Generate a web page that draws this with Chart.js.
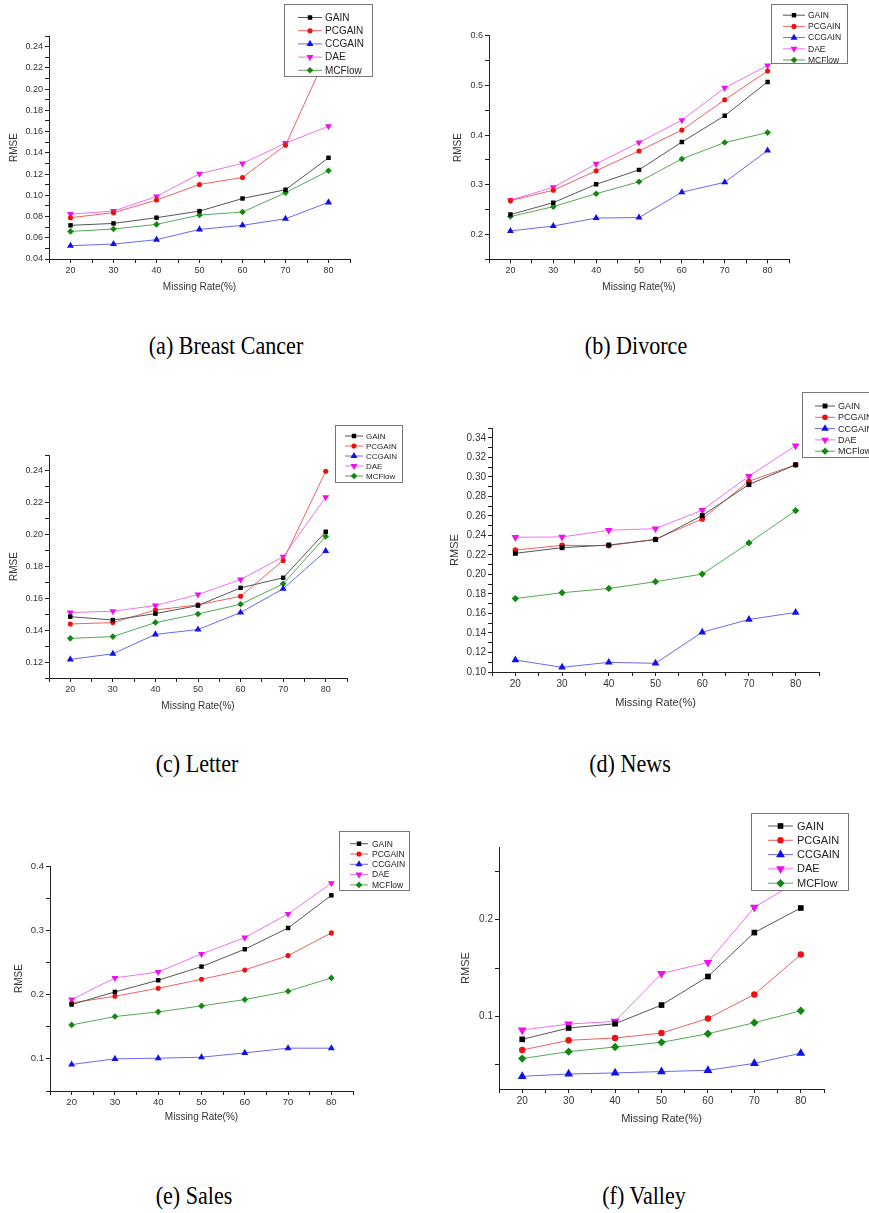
<!DOCTYPE html>
<html>
<head>
<meta charset="utf-8">
<script src="https://cdn.jsdelivr.net/npm/chart.js@4.4.1/dist/chart.umd.min.js"></script>
<style>
  body { margin: 0; background: #fff; width: 869px; height: 1213px; position: relative; overflow: hidden; }
  canvas { position: absolute; }
  .cap { position: absolute; font-family: "Liberation Serif", "Times New Roman", serif; font-size: 23px; color: #000; transform: translate(-50%, -50%) scale(0.96, 1.05); white-space: nowrap; }
</style>
</head>
<body>
<div class="cap" style="left:226px;top:347px">(a) Breast Cancer</div>
<div class="cap" style="left:636px;top:347px">(b) Divorce</div>
<div class="cap" style="left:197px;top:765px">(c) Letter</div>
<div class="cap" style="left:630px;top:765px">(d) News</div>
<div class="cap" style="left:194px;top:1197px">(e) Sales</div>
<div class="cap" style="left:644px;top:1197px">(f) Valley</div>

<script>
const missingRate = [20, 30, 40, 50, 60, 70, 80];
const methods = ['GAIN', 'PCGAIN', 'CCGAIN', 'DAE', 'MCFlow'];

// (a) Breast Cancer
const breastGAIN   = [0.0717, 0.0735, 0.0789, 0.0851, 0.0970, 0.1052, 0.1353];
const breastPCGAIN = [0.0789, 0.0836, 0.0955, 0.1102, 0.1168, 0.1472, 0.2360];
const breastCCGAIN = [0.0525, 0.0541, 0.0582, 0.0679, 0.0717, 0.0779, 0.0933];
const breastDAE    = [0.0823, 0.0851, 0.0989, 0.1203, 0.1300, 0.1491, 0.1650];
const breastMCFlow = [0.0660, 0.0682, 0.0726, 0.0814, 0.0842, 0.1024, 0.1231];

// (b) Divorce
const divorceGAIN   = [0.240, 0.264, 0.301, 0.330, 0.386, 0.439, 0.507];
const divorcePCGAIN = [0.268, 0.289, 0.328, 0.368, 0.410, 0.471, 0.529];
const divorceCCGAIN = [0.207, 0.217, 0.233, 0.234, 0.285, 0.305, 0.369];
const divorceDAE    = [0.269, 0.295, 0.342, 0.385, 0.430, 0.495, 0.540];
const divorceMCFlow = [0.236, 0.256, 0.282, 0.306, 0.352, 0.385, 0.405];

// (c) Letter
const letterGAIN   = [0.1485, 0.1464, 0.1504, 0.1555, 0.1666, 0.1729, 0.2018];
const letterPCGAIN = [0.1439, 0.1448, 0.1527, 0.1559, 0.1613, 0.1838, 0.2398];
const letterCCGAIN = [0.1217, 0.1252, 0.1374, 0.1404, 0.1511, 0.1660, 0.1897];
const letterDAE    = [0.1511, 0.1519, 0.1555, 0.1624, 0.1718, 0.1861, 0.2235];
const letterMCFlow = [0.1349, 0.1360, 0.1448, 0.1502, 0.1563, 0.1691, 0.1989];

// (d) News
const newsGAIN   = [0.2216, 0.2274, 0.2301, 0.2356, 0.2603, 0.2921, 0.3123];
const newsPCGAIN = [0.2250, 0.2298, 0.2295, 0.2360, 0.2568, 0.2955, 0.3123];
const newsCCGAIN = [0.1123, 0.1048, 0.1099, 0.1089, 0.1408, 0.1538, 0.1610];
const newsDAE    = [0.2380, 0.2384, 0.2452, 0.2469, 0.2658, 0.3007, 0.3318];
const newsMCFlow = [0.1753, 0.1812, 0.1856, 0.1925, 0.2003, 0.2322, 0.2654];

// (e) Sales
const salesGAIN   = [0.1845, 0.2041, 0.2223, 0.2435, 0.2705, 0.3036, 0.3544];
const salesPCGAIN = [0.1870, 0.1974, 0.2098, 0.2238, 0.2383, 0.2606, 0.2959];
const salesCCGAIN = [0.0912, 0.1000, 0.1010, 0.1026, 0.1093, 0.1166, 0.1166];
const salesDAE    = [0.1922, 0.2259, 0.2352, 0.2632, 0.2886, 0.3254, 0.3731];
const salesMCFlow = [0.1528, 0.1658, 0.1731, 0.1824, 0.1922, 0.2052, 0.2259];

// (f) Valley
const valleyGAIN   = [0.0763, 0.0880, 0.0924, 0.1117, 0.1412, 0.1866, 0.2120];
const valleyPCGAIN = [0.0653, 0.0753, 0.0777, 0.0828, 0.0979, 0.1227, 0.1639];
const valleyCCGAIN = [0.0381, 0.0405, 0.0416, 0.0430, 0.0443, 0.0515, 0.0619];
const valleyDAE    = [0.0859, 0.0921, 0.0948, 0.1443, 0.1557, 0.2127, 0.2415];
const valleyMCFlow = [0.0564, 0.0636, 0.0684, 0.0732, 0.0821, 0.0935, 0.1058];

// marker / line styles per method (k scales the marker radius)
const styles = [
  { point: 'rect',     rot: 0,   k: 1.05, marker: '#000000', line: '#555555' },
  { point: 'circle',   rot: 0,   k: 0.85, marker: '#ee1111', line: '#f06060' },
  { point: 'triangle', rot: 0,   k: 1.35, marker: '#1111ee', line: '#6a6af0' },
  { point: 'triangle', rot: 180, k: 1.35, marker: '#ee11ee', line: '#f070f0' },
  { point: 'rectRot',  rot: 0,   k: 1.1,  marker: '#118811', line: '#55aa55' }
];

// page layout of the six panels
const panels = [
  { series: [breastGAIN, breastPCGAIN, breastCCGAIN, breastDAE, breastMCFlow],
    yMin: 0.04, yMax: 0.25, yStep: 0.01, yLabelStep: 0.02, yDec: 2,
    l: 49, r: 350, t: 36, b: 259, yTitleX: 14, xTitleY: 287, tickSize: 9, titleSize: 10, radius: 3,
    legend: { x: 284, y: 4, w: 88, h: 72, rowY: 17.5, rowGap: 13.2, x0: 298, x1: 322, tx: 325, size: 10 } },
  { series: [divorceGAIN, divorcePCGAIN, divorceCCGAIN, divorceDAE, divorceMCFlow],
    yMin: 0.15, yMax: 0.6, yStep: 0.05, yLabelStep: 0.1, yDec: 1,
    l: 489, r: 789, t: 35.7, b: 259.3, yTitleX: 458, xTitleY: 287, tickSize: 9, titleSize: 10, radius: 3,
    legend: { x: 771, y: 4, w: 76, h: 59, rowY: 15.2, rowGap: 11.2, x0: 783, x1: 805, tx: 808, size: 8.5 } },
  { series: [letterGAIN, letterPCGAIN, letterCCGAIN, letterDAE, letterMCFlow],
    yMin: 0.11, yMax: 0.25, yStep: 0.01, yLabelStep: 0.02, yDec: 2,
    l: 49, r: 347, t: 455, b: 678, yTitleX: 14, xTitleY: 705.5, tickSize: 9, titleSize: 10, radius: 3,
    legend: { x: 335, y: 425, w: 67, h: 57, rowY: 436, rowGap: 10, x0: 345, x1: 363, tx: 366, size: 8 } },
  { series: [newsGAIN, newsPCGAIN, newsCCGAIN, newsDAE, newsMCFlow],
    yMin: 0.10, yMax: 0.35, yStep: 0.01, yLabelStep: 0.02, yDec: 2,
    l: 492, r: 819, t: 428, b: 672, yTitleX: 455, xTitleY: 703, tickSize: 10, titleSize: 11, radius: 3.3,
    legend: { x: 802, y: 392, w: 80, h: 65, rowY: 406, rowGap: 11.3, x0: 815, x1: 835, tx: 838, size: 9 } },
  { series: [salesGAIN, salesPCGAIN, salesCCGAIN, salesDAE, salesMCFlow],
    yMin: 0.05, yMax: 0.4, yStep: 0.05, yLabelStep: 0.1, yDec: 1,
    l: 50, r: 353, t: 866, b: 1091, yTitleX: 19, xTitleY: 1117, tickSize: 9.5, titleSize: 10, radius: 3,
    legend: { x: 339, y: 831, w: 70, h: 59, rowY: 843.7, rowGap: 10.3, x0: 350, x1: 368, tx: 372, size: 8.5 } },
  { series: [valleyGAIN, valleyPCGAIN, valleyCCGAIN, valleyDAE, valleyMCFlow],
    yMin: 0.025, yMax: 0.275, yStep: 0.05, yLabelStep: 0.1, yDec: 1,
    l: 499, r: 824, t: 847, b: 1089, yTitleX: 466, xTitleY: 1119, tickSize: 10, titleSize: 11, radius: 3.8,
    legend: { x: 751, y: 813, w: 97, h: 77, rowY: 826, rowGap: 14.3, x0: 768, x1: 793, tx: 797, size: 11 } }
];

Chart.defaults.font.family = '"Liberation Sans", Arial, sans-serif';
Chart.defaults.color = '#333';

function drawMarker(ctx, st, x, y, r) {
  ctx.fillStyle = st.marker;
  ctx.beginPath();
  if (st.point === 'rect') {
    const s = r * Math.SQRT1_2;
    ctx.rect(x - s, y - s, 2 * s, 2 * s);
  } else if (st.point === 'circle') {
    ctx.arc(x, y, r, 0, Math.PI * 2);
  } else if (st.point === 'rectRot') {
    ctx.moveTo(x, y - r); ctx.lineTo(x + r, y); ctx.lineTo(x, y + r); ctx.lineTo(x - r, y);
  } else {
    let rad = st.rot * Math.PI / 180;
    ctx.moveTo(x + Math.sin(rad) * r, y - Math.cos(rad) * r);
    rad += Math.PI * 2 / 3;
    ctx.lineTo(x + Math.sin(rad) * r, y - Math.cos(rad) * r);
    rad += Math.PI * 2 / 3;
    ctx.lineTo(x + Math.sin(rad) * r, y - Math.cos(rad) * r);
  }
  ctx.closePath();
  ctx.fill();
}

// legend box drawn on top of the plot, like the original Origin figures
const overlayLegend = {
  id: 'overlayLegend',
  afterDraw(chart, args, lg) {
    const ctx = chart.ctx;
    ctx.save();
    ctx.fillStyle = '#fff';
    ctx.fillRect(lg.x, lg.y, lg.w, lg.h);
    ctx.strokeStyle = '#777';
    ctx.lineWidth = 1;
    ctx.strokeRect(Math.round(lg.x) + 0.5, Math.round(lg.y) + 0.5, lg.w, lg.h);
    methods.forEach((name, i) => {
      const st = styles[i];
      const y = lg.rowY + i * lg.rowGap;
      ctx.strokeStyle = st.line;
      ctx.beginPath();
      ctx.moveTo(lg.x0, y);
      ctx.lineTo(lg.x1, y);
      ctx.stroke();
      drawMarker(ctx, st, (lg.x0 + lg.x1) / 2, y, lg.r * st.k);
      ctx.fillStyle = '#222';
      ctx.font = lg.size + 'px "Liberation Sans", Arial, sans-serif';
      ctx.textBaseline = 'middle';
      ctx.fillText(name, lg.tx, y + 0.5);
    });
    ctx.restore();
  }
};

panels.forEach(p => {
  const titleLh = p.titleSize * 1.2;
  const cx = Math.round(p.yTitleX - titleLh / 2);
  const cy = Math.max(0, Math.floor(Math.min(p.t, p.legend.y) - 3));
  const right = Math.min(869, Math.ceil(Math.max(p.r, p.legend.x + p.legend.w) + 4));
  const bottom = Math.round(p.xTitleY + titleLh / 2);
  const cw = right - cx;
  const ch = bottom - cy;

  const canvas = document.createElement('canvas');
  canvas.width = cw;
  canvas.height = ch;
  canvas.style.left = cx + 'px';
  canvas.style.top = cy + 'px';
  canvas.style.width = cw + 'px';
  canvas.style.height = ch + 'px';
  document.body.appendChild(canvas);

  const lg = p.legend;
  const legendOpts = {
    x: lg.x - cx, y: lg.y - cy, w: lg.w, h: lg.h,
    rowY: lg.rowY - cy, rowGap: lg.rowGap,
    x0: lg.x0 - cx, x1: lg.x1 - cx, tx: lg.tx - cx,
    size: lg.size, r: p.radius
  };

  const datasets = methods.map((name, i) => ({
    label: name,
    data: missingRate.map((x, j) => ({ x: x, y: p.series[i][j] })),
    borderColor: styles[i].line,
    backgroundColor: styles[i].marker,
    borderWidth: 1,
    pointStyle: styles[i].point,
    pointRotation: styles[i].rot,
    pointRadius: p.radius * styles[i].k,
    pointBorderWidth: 0,
    pointBackgroundColor: styles[i].marker,
    tension: 0,
    fill: false
  }));

  new Chart(canvas.getContext('2d'), {
    type: 'line',
    data: { datasets: datasets },
    plugins: [overlayLegend],
    options: {
      responsive: false,
      animation: false,
      layout: { padding: { top: p.t - cy, right: right - p.r, left: 0, bottom: 0 } },
      plugins: {
        legend: { display: false },
        tooltip: { enabled: false },
        overlayLegend: legendOpts
      },
      scales: {
        x: {
          type: 'linear',
          min: 15,
          max: 85,
          afterFit(s) { s.height = bottom - p.b; },
          border: { color: '#222', width: 1 },
          grid: { drawOnChartArea: false, tickLength: 4, color: '#222' },
          ticks: {
            stepSize: 5,
            autoSkip: false,
            maxRotation: 0,
            padding: 2,
            color: '#333',
            font: { size: p.tickSize },
            callback: v => missingRate.includes(v) ? String(v) : ''
          },
          title: { display: true, text: 'Missing Rate(%)', padding: 0, color: '#333', font: { size: p.titleSize } }
        },
        y: {
          min: p.yMin,
          max: p.yMax,
          afterFit(s) { s.width = p.l - cx; },
          afterBuildTicks(s) {
            const out = [];
            for (let k = Math.ceil(p.yMin / p.yStep - 1e-6); k * p.yStep <= p.yMax + 1e-9; k++) {
              out.push({ value: +(k * p.yStep).toFixed(4) });
            }
            s.ticks = out;
          },
          border: { color: '#222', width: 1 },
          grid: { drawOnChartArea: false, tickLength: 4, color: '#222' },
          ticks: {
            autoSkip: false,
            padding: 2,
            color: '#333',
            font: { size: p.tickSize },
            callback: v => {
              const k = Math.round(v / p.yLabelStep);
              return Math.abs(v - k * p.yLabelStep) < 1e-6 ? v.toFixed(p.yDec) : '';
            }
          },
          title: { display: true, text: 'RMSE', padding: 0, color: '#333', font: { size: p.titleSize } }
        }
      }
    }
  });
});
</script>
</body>
</html>
